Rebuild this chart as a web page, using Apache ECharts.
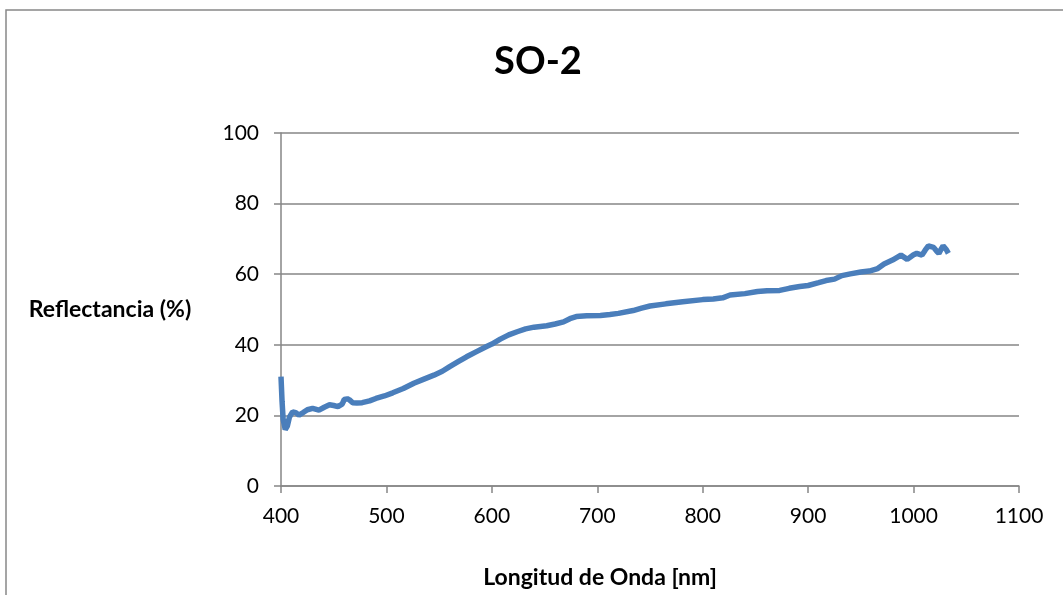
<!DOCTYPE html>
<html>
<head>
<meta charset="utf-8">
<script src="https://cdn.jsdelivr.net/npm/echarts@6/dist/echarts.min.js"></script>
<style>
  html, body { margin: 0; padding: 0; background: #fff; }
  #chart { width: 1063px; height: 595px; }
</style>
</head>
<body>
<div id="chart"></div>
<script>
// longitud de onda (nm) y reflectancia (%)
const wavelength = [400, 401, 402, 404, 406, 408, 411, 414, 417, 421, 425, 430, 436, 441, 446, 450, 454, 458, 460, 463,
  465, 468, 472, 477, 484, 490, 498, 506, 516, 526, 535, 545, 553, 560, 568, 576, 585, 595, 600, 608,
  616, 624, 632, 640, 646, 652, 660, 668, 674, 680, 690, 703, 712, 720, 734, 742, 750, 765, 781, 800,
  810, 819, 826, 840, 852, 861, 873, 882, 892, 900, 910, 917, 925, 932, 940, 950, 958, 966, 972, 980,
  988, 994, 1000, 1003, 1008, 1011, 1014, 1019, 1022, 1024, 1026, 1028, 1031, 1033]
const reflectance = [31, 24, 19, 16, 17, 19.5, 21, 20.8, 20.1, 20.8, 21.6, 22, 21.5, 22.3, 23, 22.8, 22.5, 23.2, 24.5, 24.7,
  24.4, 23.6, 23.5, 23.6, 24.1, 24.8, 25.5, 26.4, 27.6, 29.1, 30.2, 31.4, 32.5, 33.8, 35.2, 36.6, 38.0, 39.5, 40.2, 41.6,
  42.8, 43.7, 44.5, 45, 45.2, 45.4, 45.9, 46.5, 47.4, 48, 48.2, 48.3, 48.6, 48.9, 49.7, 50.4, 51, 51.6, 52.2, 52.8,
  53, 53.3, 54.1, 54.5, 55.1, 55.3, 55.4, 56, 56.5, 56.8, 57.6, 58.2, 58.6, 59.6, 60.1, 60.6, 60.9, 61.6, 62.9, 64,
  65.4, 64.2, 65.5, 65.9, 65.4, 66.8, 68, 67.6, 66.5, 65.9, 67, 68, 67, 65.9]

const FONT = 'Lato'
const GRAY = '#868686'

const chart = echarts.init(document.getElementById('chart'))

chart.setOption({
  backgroundColor: '#fff',
  animation: false,
  title: [{
    text: 'SO-2',
    left: 533,
    top: 38,
    textAlign: 'center',
    textStyle: { fontFamily: FONT, fontWeight: 'bold', fontSize: 38, color: '#000' }
  }, {
    // titulo del eje x (no centrado sobre el eje en el original)
    text: 'Longitud de Onda [nm]',
    left: 600,
    top: 566,
    textAlign: 'center',
    padding: 0,
    textStyle: { fontFamily: FONT, fontWeight: 'bold', fontSize: 23, color: '#000' }
  }],
  graphic: [{
    // marco exterior del grafico (se sale por la derecha y abajo)
    type: 'rect',
    shape: { x: 6, y: 10, width: 1200, height: 800 },
    style: { fill: 'none', stroke: '#888', lineWidth: 1.5 },
    silent: true
  }],
  grid: { left: 281, right: 44, top: 133, bottom: 109 },
  xAxis: {
    type: 'value',
    min: 400, max: 1100, interval: 100,
    axisLine: { show: true, onZero: false, lineStyle: { color: GRAY, width: 1.5 } },
    axisTick: { show: true, inside: false, length: 7, lineStyle: { color: GRAY, width: 1.5 } },
    axisLabel: { margin: 20, fontFamily: FONT, fontSize: 21, color: '#000', formatter: v => String(v) },
    splitLine: { show: false }
  },
  yAxis: {
    type: 'value',
    min: 0, max: 100, interval: 20,
    name: 'Reflectancia (%)',
    nameLocation: 'middle',
    nameRotate: 0,
    nameGap: 171,
    nameTextStyle: { fontFamily: FONT, fontWeight: 'bold', fontSize: 23, color: '#000', align: 'center' },
    axisLine: { show: true, lineStyle: { color: GRAY, width: 1.5 } },
    axisTick: { show: true, inside: false, length: 7, lineStyle: { color: GRAY, width: 1.5 } },
    axisLabel: { margin: 22, fontFamily: FONT, fontSize: 21, color: '#000' },
    splitLine: { show: true, lineStyle: { color: GRAY, width: 1.5 } }
  },
  series: [{
    type: 'line',
    data: wavelength.map((w, i) => [w, reflectance[i]]),
    showSymbol: false,
    smooth: false,
    lineStyle: { color: '#4a7ebb', width: 5.5 },
    itemStyle: { color: '#4a7ebb' }
  }]
})
</script>
</body>
</html>
